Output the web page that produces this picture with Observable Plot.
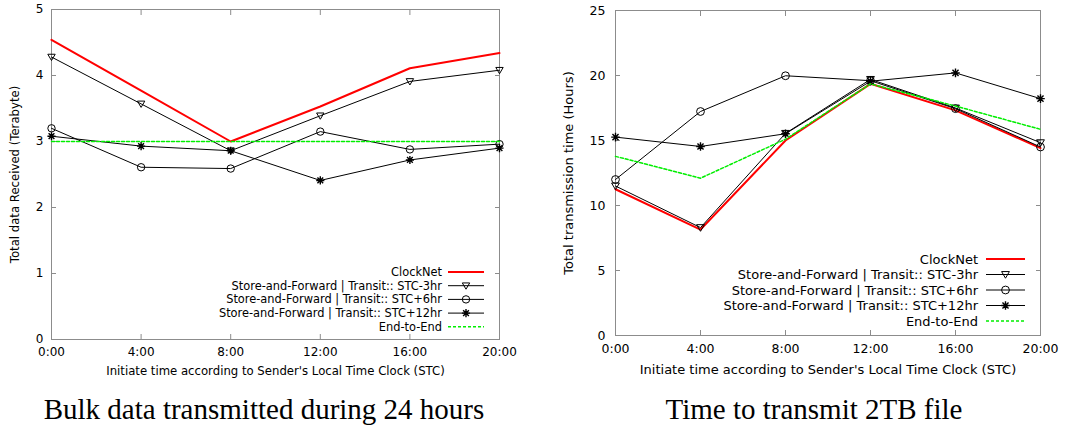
<!DOCTYPE html>
<html>
<head>
<meta charset="utf-8">
<script src="https://cdn.jsdelivr.net/npm/d3@7"></script>
<script src="https://cdn.jsdelivr.net/npm/@observablehq/plot@0.6"></script>
<style>
  html, body { margin: 0; padding: 0; background: #fff; }
  #fig { position: relative; width: 1068px; height: 427px; background: #fff; overflow: hidden; }
  #left { position: absolute; left: 0; top: 0; }
  #right { position: absolute; left: 534px; top: 0; }
  #captions { position: absolute; left: 0; top: 0; }
  svg { font-family: "DejaVu Sans", sans-serif; }
</style>
</head>
<body>
<div id="fig">
  <div id="left"></div>
  <div id="right"></div>
  <svg id="captions" width="1068" height="427"></svg>
</div>
<script>
// ---------- data ----------
const times = [0, 4, 8, 12, 16, 20];
const tickLabels = ["0:00", "4:00", "8:00", "12:00", "16:00", "20:00"];
const seriesNames = [
  "ClockNet",
  "Store-and-Forward | Transit:: STC-3hr",
  "Store-and-Forward | Transit:: STC+6hr",
  "Store-and-Forward | Transit:: STC+12hr",
  "End-to-End"
];

// Bulk data received (Terabyte)
const bulkClockNet = [4.54, 3.77, 3.00, 3.53, 4.11, 4.34];
const bulkSTCm3    = [4.28, 3.57, 2.86, 3.39, 3.91, 4.08];
const bulkSTCp6    = [3.20, 2.61, 2.59, 3.15, 2.88, 2.96];
const bulkSTCp12   = [3.08, 2.93, 2.86, 2.41, 2.72, 2.90];
const bulkE2E      = [3.00, 3.00, 3.00, 3.00, 3.00, 3.00];

// Time to transmit 2TB (Hours)
const timeClockNet = [11.25, 8.15, 15.00, 19.36, 17.32, 14.42];
const timeSTCm3    = [11.50, 8.30, 15.55, 19.70, 17.50, 14.83];
const timeSTCp6    = [12.00, 17.23, 19.98, 19.60, 17.45, 14.50];
const timeSTCp12   = [15.26, 14.54, 15.52, 19.56, 20.20, 18.22];
const timeE2E      = [13.78, 12.10, 15.10, 19.36, 17.65, 15.86];

const bulkYTicks = [0, 1, 2, 3, 4, 5];
const timeYTicks = [0, 5, 10, 15, 20, 25];

const yTitleLeft = "Total data Received (Terabyte)";
const yTitleRight = "Total transmission time (Hours)";
const xTitle = "Initiate time according to Sender's Local Time Clock (STC)";
const captionLeft = "Bulk data transmitted during 24 hours";
const captionRight = "Time to transmit 2TB file";

// ---------- symbols ----------
const triDown = {
  draw(ctx, size) {
    const r = Math.sqrt(size / Math.PI);
    ctx.moveTo(-r, -r * 0.75);
    ctx.lineTo(r, -r * 0.75);
    ctx.lineTo(0, r * 0.95);
    ctx.closePath();
  }
};
const star8 = {
  draw(ctx, size) {
    const r = Math.sqrt(size / Math.PI) * 1.1;
    const d = r * Math.SQRT1_2;
    ctx.moveTo(-r, 0); ctx.lineTo(r, 0);
    ctx.moveTo(0, -r); ctx.lineTo(0, r);
    ctx.moveTo(-d, -d); ctx.lineTo(d, d);
    ctx.moveTo(-d, d); ctx.lineTo(d, -d);
  }
};
const circ = {
  draw(ctx, size) {
    const r = Math.sqrt(size / Math.PI);
    ctx.moveTo(r, 0);
    ctx.arc(0, 0, r, 0, 2 * Math.PI);
  }
};

const styles = [
  {stroke: "#ff0000", strokeWidth: 2, dash: null, symbol: null},
  {stroke: "#000", strokeWidth: 1, dash: null, symbol: triDown},
  {stroke: "#000", strokeWidth: 1, dash: null, symbol: circ},
  {stroke: "#000", strokeWidth: 1, dash: null, symbol: star8, symWidth: 1.4},
  {stroke: "#00ee00", strokeWidth: 1.5, dash: "3,2", symbol: null}
];

function seriesRows(arrays) {
  return arrays.map(vals => times.map((t, i) => ({t, v: vals[i]})));
}

function makeChart(cfg) {
  const rows = seriesRows(cfg.series);
  const marks = [
    Plot.frame({stroke: "#8c8c8c"}),
    // inward ticks on all sides
    Plot.axisX(times, {anchor: "bottom", tickSize: -5, fill: "none", stroke: "#8c8c8c"}),
    Plot.axisX(times, {anchor: "top", tickSize: -5, fill: "none", stroke: "#8c8c8c"}),
    Plot.axisY(cfg.yTicks, {anchor: "left", tickSize: -5, fill: "none", stroke: "#8c8c8c"}),
    Plot.axisY(cfg.yTicks, {anchor: "right", tickSize: -5, fill: "none", stroke: "#8c8c8c"}),
    // labels
    Plot.axisX(times, {anchor: "bottom", tickSize: 0, tickPadding: cfg.xPad, label: null,
      tickFormat: t => tickLabels[times.indexOf(t)], fontSize: cfg.tickFont, fill: "#000"}),
    Plot.axisY(cfg.yTicks, {anchor: "left", tickSize: 0, tickPadding: cfg.yPad, label: null,
      tickFormat: d => String(d), fontSize: cfg.tickFont, fill: "#000"}),
    Plot.text([xTitle], {frameAnchor: "bottom", dy: cfg.xTitleDy, fontSize: cfg.xTitleFont, fill: "#000"}),
    Plot.text([cfg.yTitle], {frameAnchor: "left", dx: cfg.yTitleDx, rotate: -90, textAnchor: "middle",
      fontSize: cfg.yTitleFont, fill: "#000"})
  ];
  rows.forEach((r, i) => {
    const s = styles[i];
    marks.push(Plot.line(r, {x: "t", y: "v", stroke: s.stroke, strokeWidth: s.strokeWidth,
      strokeDasharray: s.dash, curve: "linear"}));
    if (s.symbol) {
      marks.push(Plot.dot(r, {x: "t", y: "v", symbol: s.symbol, r: cfg.markR,
        stroke: s.stroke, fill: "none", strokeWidth: s.symWidth || 1}));
    }
  });
  const svg = Plot.plot({
    width: 534, height: 385,
    marginLeft: cfg.ml, marginRight: cfg.mr, marginTop: cfg.mt, marginBottom: cfg.mb,
    style: {fontFamily: "DejaVu Sans, sans-serif", background: "transparent", overflow: "visible"},
    x: {domain: [0, 20], axis: null},
    y: {domain: cfg.yDomain, axis: null},
    marks
  });
  // legend
  const sel = d3.select(svg);
  const g = sel.append("g").attr("font-size", cfg.legFont).attr("font-family", "DejaVu Sans, sans-serif");
  seriesNames.forEach((name, i) => {
    const y = cfg.legY0 + i * cfg.legDy;
    const s = styles[i];
    g.append("text").attr("x", cfg.legTextX).attr("y", y).attr("dy", "0.35em")
      .attr("text-anchor", "end").attr("fill", "#000").text(name);
    g.append("line").attr("x1", cfg.legX1).attr("x2", cfg.legX2).attr("y1", y).attr("y2", y)
      .attr("stroke", s.stroke).attr("stroke-width", s.strokeWidth)
      .attr("stroke-dasharray", s.dash);
    if (s.symbol) {
      const p = d3.path();
      s.symbol.draw(p, Math.PI * cfg.markR * cfg.markR);
      g.append("path").attr("d", p.toString())
        .attr("transform", `translate(${(cfg.legX1 + cfg.legX2) / 2},${y})`)
        .attr("fill", "none").attr("stroke", s.stroke).attr("stroke-width", s.symWidth || 1);
    }
  });
  return svg;
}

document.getElementById("left").append(makeChart({
  series: [bulkClockNet, bulkSTCm3, bulkSTCp6, bulkSTCp12, bulkE2E],
  yDomain: [0, 5], yTicks: bulkYTicks, yTitle: yTitleLeft,
  ml: 51, mr: 35, mt: 9, mb: 46,
  xPad: 8, yPad: 8, tickFont: 12, xTitleFont: 11.7, yTitleFont: 11.7,
  xTitleDy: 35, yTitleDx: -36,
  markR: 3.7, legFont: 11.4,
  legY0: 272, legDy: 13.7, legTextX: 442, legX1: 448, legX2: 484
}));

document.getElementById("right").append(makeChart({
  series: [timeClockNet, timeSTCm3, timeSTCp6, timeSTCp12, timeE2E],
  yDomain: [0, 25], yTicks: timeYTicks, yTitle: yTitleRight,
  ml: 81, mr: 28, mt: 10, mb: 50,
  xPad: 9, yPad: 10, tickFont: 12.5, xTitleFont: 13, yTitleFont: 13,
  xTitleDy: 38, yTitleDx: -47,
  markR: 3.9, legFont: 13,
  legY0: 259, legDy: 15.5, legTextX: 444, legX1: 452, legX2: 491
}));

// captions
const cap = d3.select("#captions");
[[captionLeft, 264], [captionRight, 814]].forEach(([t, x]) => {
  cap.append("text").attr("x", x).attr("y", 419).attr("text-anchor", "middle")
    .attr("font-family", "Liberation Serif, Times New Roman, serif").attr("font-size", 29)
    .attr("fill", "#000").text(t);
});
</script>
</body>
</html>
